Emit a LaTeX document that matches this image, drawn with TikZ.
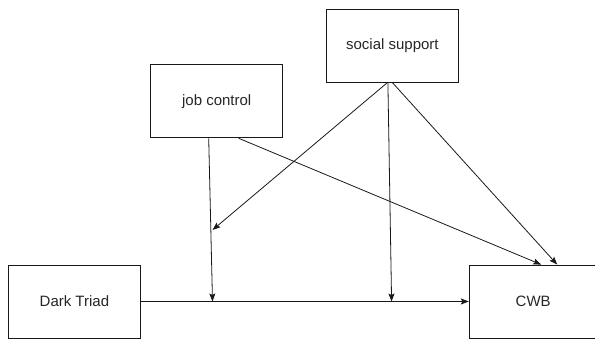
\documentclass[tikz,border=0pt]{standalone}
\usepackage{fontspec}
\setsansfont{Liberation Sans}
\usetikzlibrary{arrows.meta,positioning,calc}

\begin{document}
\begin{tikzpicture}[x=1pt,y=1pt,->,>={Stealth[length=8pt,width=6pt,inset=1.5pt]},
            line width=0.8pt,draw=black!90,
            box node/.style={rectangle,draw,minimum width=132pt,minimum height=73pt,
              text=black!85,font=\sffamily\fontsize{15}{17}\selectfont}]

            \useasboundingbox (0,0) rectangle (595,340);
            \clip (0,0) rectangle (595,340);

            \node[box node] (dark) at (74.4,38.5) {Dark Triad};
            \node[box node,minimum width=128pt] (cwb) [right=328pt of dark] {CWB};
            \node[box node] (job) at (216.7,238.6) {job control};
            \node[box node] (soc) at (392.4,294.3) {social support};

            % points on the paths
            \coordinate (m1) at (212.5,38.5);
            \coordinate (m2) at (391.6,38.5);
            \coordinate (mj) at (212.5,110);

            \draw (dark.east) -- (cwb.west);
            \draw ($(job.south)+(-8,0)$) -- (m1);
            \draw ($(job.south)+(22,0)$) -- ($(cwb.north)+(8,0)$);
            \draw ($(soc.south)+(-5,0)$) -- (mj);
            \draw ($(soc.south)+(-4.5,0)$) -- (m2);
            \draw ($(soc.south)+(0,0)$) -- ($(cwb.north)+(24,0)$);
          \end{tikzpicture}
\end{document}
